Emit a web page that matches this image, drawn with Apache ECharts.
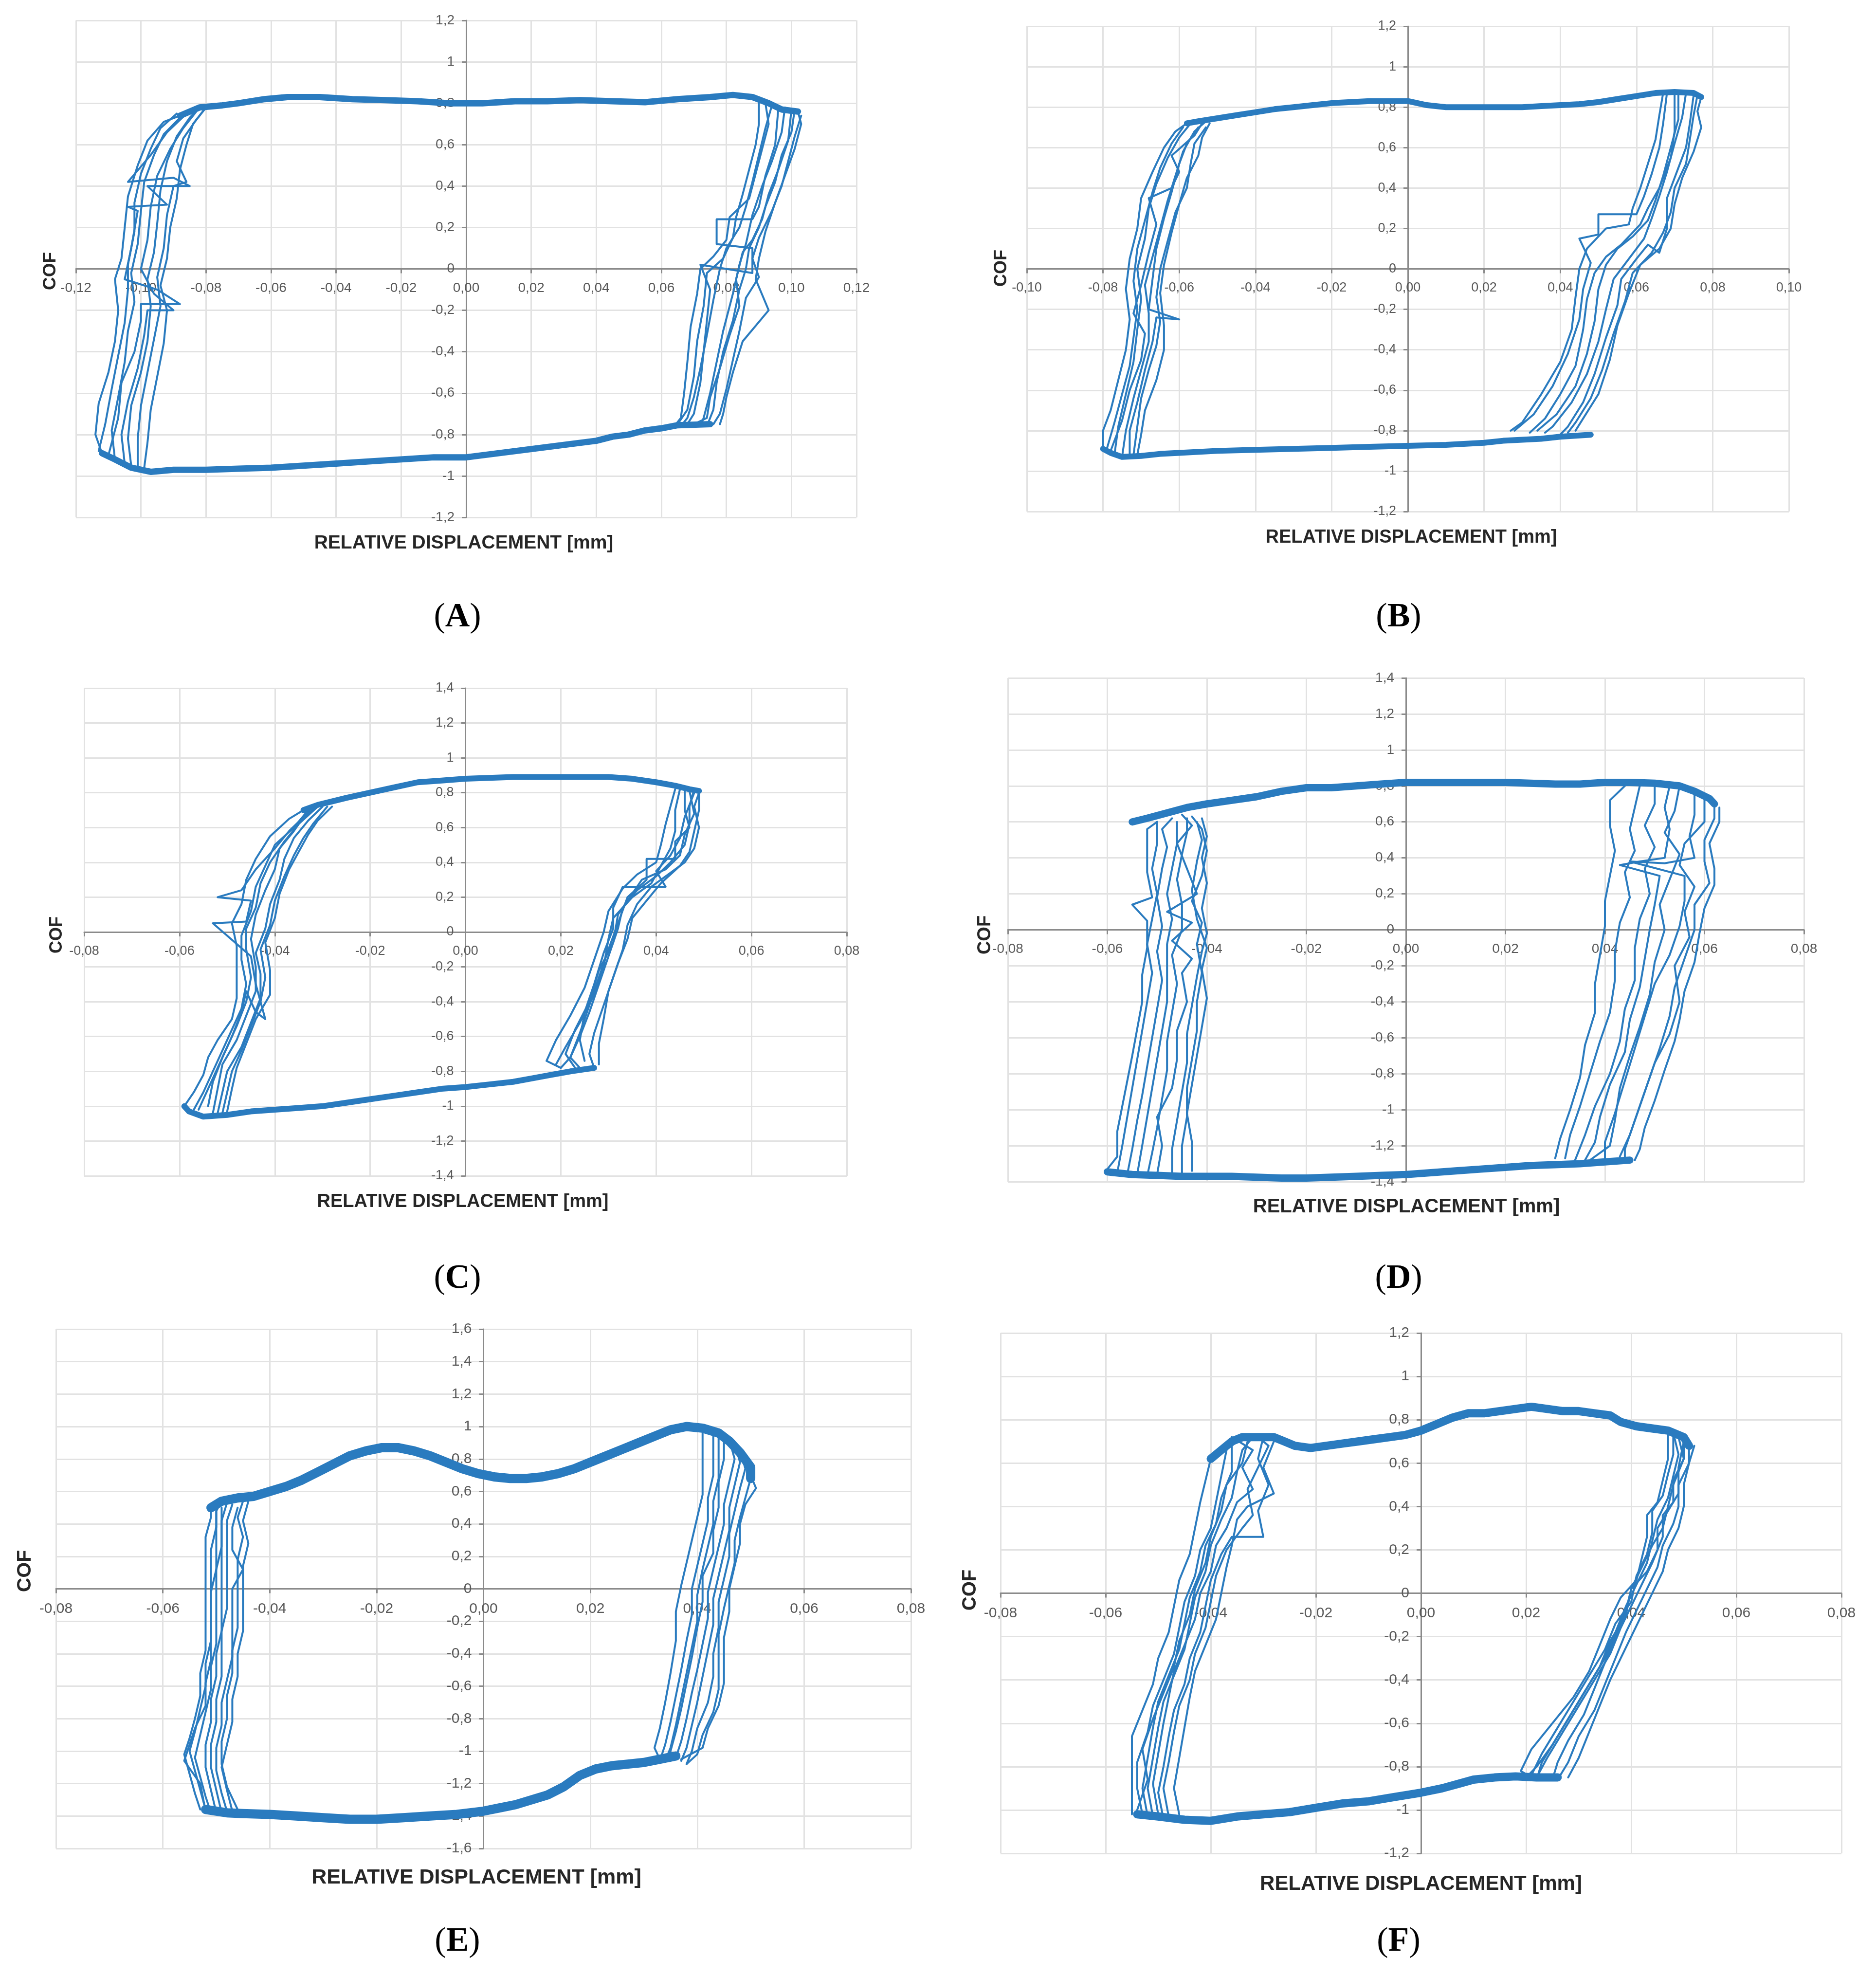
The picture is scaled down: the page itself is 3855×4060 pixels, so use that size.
<!DOCTYPE html>
<html>
<head>
<meta charset="utf-8">
<script src="https://cdn.jsdelivr.net/npm/echarts@6/dist/echarts.min.js"></script>
<style>
  html, body { margin: 0; padding: 0; background: #ffffff; }
  #chart { width: 3855px; height: 4060px; }
</style>
</head>
<body>
<div id="chart"></div>
<script>
// ── DATA ─────────────────────────────────────────────────────────────────────
// Each loop : top branch (COF > 0), bottom branch (COF < 0),
// then several descending right walls and ascending left walls (one per cycle).

// (A)
const topA = [[-0.088,0.74],[-0.082,0.78],[-0.075,0.79],[-0.07,0.80],[-0.062,0.82],[-0.055,0.83],[-0.045,0.83],[-0.035,0.82],[-0.025,0.815],[-0.015,0.81],[-0.005,0.80],[0.005,0.80],[0.015,0.81],[0.025,0.81],[0.035,0.815],[0.045,0.81],[0.055,0.805],[0.065,0.82],[0.075,0.83],[0.082,0.84],[0.088,0.83],[0.093,0.80],[0.097,0.77],[0.102,0.76]];
const bottomA = [[0.075,-0.75],[0.065,-0.755],[0.06,-0.77],[0.055,-0.78],[0.05,-0.80],[0.045,-0.81],[0.04,-0.83],[0.03,-0.85],[0.02,-0.87],[0.01,-0.89],[0.0,-0.91],[-0.01,-0.91],[-0.02,-0.92],[-0.03,-0.93],[-0.04,-0.94],[-0.05,-0.95],[-0.06,-0.96],[-0.07,-0.965],[-0.08,-0.97],[-0.09,-0.97],[-0.097,-0.98],[-0.103,-0.96],[-0.108,-0.92],[-0.112,-0.89]];
const rightA = [
  [[0.102,0.76],[0.103,0.70],[0.101,0.58],[0.098,0.45],[0.095,0.32],[0.092,0.18],[0.090,0.05],[0.089,-0.05],[0.093,-0.20],[0.085,-0.35],[0.082,-0.50],[0.080,-0.62],[0.079,-0.70],[0.078,-0.75]],
  [[0.098,0.78],[0.097,0.66],[0.094,0.52],[0.091,0.40],[0.088,0.26],[0.086,0.12],[0.084,0.02],[0.082,-0.12],[0.079,-0.30],[0.077,-0.45],[0.075,-0.60],[0.073,-0.72],[0.072,-0.76]],
  [[0.094,0.79],[0.092,0.68],[0.090,0.55],[0.088,0.42],[0.086,0.30],[0.084,0.20],[0.080,0.10],[0.078,0.0],[0.076,-0.15],[0.074,-0.32],[0.072,-0.48],[0.070,-0.62],[0.068,-0.72],[0.066,-0.76]],
  [[0.090,0.80],[0.090,0.70],[0.089,0.60],[0.087,0.48],[0.085,0.36],[0.083,0.25],[0.082,0.15],[0.079,0.05],[0.074,-0.02],[0.073,-0.18],[0.071,-0.35],[0.070,-0.52],[0.068,-0.68],[0.065,-0.75]],
  [[0.100,0.77],[0.099,0.62],[0.096,0.48],[0.093,0.36],[0.091,0.24],[0.088,0.14],[0.085,0.08],[0.083,-0.05],[0.084,-0.18],[0.081,-0.32],[0.078,-0.48],[0.075,-0.62],[0.074,-0.72],[0.070,-0.75]],
  [[0.096,0.78],[0.095,0.60],[0.092,0.45],[0.090,0.30],[0.088,0.24],[0.077,0.24],[0.077,0.12],[0.088,0.10],[0.088,-0.02],[0.072,0.02],[0.075,-0.10],[0.074,-0.25],[0.073,-0.40],[0.072,-0.55],[0.070,-0.70],[0.068,-0.75]],
  [[0.101,0.77],[0.100,0.66],[0.097,0.55],[0.095,0.42],[0.092,0.30],[0.090,0.20],[0.087,0.10],[0.086,0.0],[0.084,-0.10],[0.082,-0.25],[0.079,-0.40],[0.077,-0.55],[0.076,-0.68],[0.074,-0.76]],
  [[0.092,0.80],[0.093,0.70],[0.091,0.58],[0.089,0.46],[0.087,0.34],[0.081,0.25],[0.080,0.14],[0.076,0.06],[0.072,0.0],[0.071,-0.12],[0.069,-0.28],[0.068,-0.45],[0.067,-0.60],[0.066,-0.72],[0.064,-0.76]],
  [[0.103,0.74],[0.101,0.64],[0.099,0.52],[0.097,0.40],[0.094,0.28],[0.090,0.15],[0.088,0.05],[0.090,-0.04],[0.086,-0.14],[0.084,-0.30],[0.082,-0.44],[0.080,-0.58],[0.078,-0.70],[0.076,-0.75]]
];
const leftA = [
  [[-0.112,-0.89],[-0.114,-0.80],[-0.113,-0.65],[-0.110,-0.50],[-0.108,-0.35],[-0.107,-0.20],[-0.108,-0.05],[-0.106,0.05],[-0.105,0.20],[-0.104,0.35],[-0.101,0.50],[-0.098,0.62],[-0.093,0.71],[-0.088,0.74]],
  [[-0.108,-0.92],[-0.109,-0.78],[-0.107,-0.62],[-0.105,-0.45],[-0.104,-0.30],[-0.102,-0.16],[-0.103,-0.02],[-0.101,0.12],[-0.100,0.28],[-0.099,0.42],[-0.096,0.55],[-0.093,0.65],[-0.088,0.73],[-0.084,0.77]],
  [[-0.103,-0.95],[-0.104,-0.82],[-0.103,-0.66],[-0.100,-0.50],[-0.098,-0.35],[-0.097,-0.18],[-0.098,-0.05],[-0.096,0.08],[-0.095,0.22],[-0.094,0.38],[-0.092,0.52],[-0.089,0.64],[-0.085,0.73],[-0.082,0.78]],
  [[-0.099,-0.96],[-0.098,-0.84],[-0.097,-0.68],[-0.095,-0.52],[-0.093,-0.36],[-0.092,-0.20],[-0.094,-0.08],[-0.092,0.05],[-0.091,0.20],[-0.089,0.34],[-0.088,0.48],[-0.086,0.60],[-0.084,0.70],[-0.080,0.78]],
  [[-0.110,-0.90],[-0.107,-0.72],[-0.106,-0.55],[-0.102,-0.40],[-0.100,-0.25],[-0.100,-0.17],[-0.088,-0.17],[-0.095,-0.10],[-0.105,-0.05],[-0.103,0.10],[-0.101,0.28],[-0.104,0.30],[-0.092,0.31],[-0.098,0.40],[-0.085,0.40],[-0.090,0.44],[-0.104,0.42],[-0.097,0.55],[-0.092,0.66],[-0.086,0.75]],
  [[-0.113,-0.88],[-0.111,-0.75],[-0.109,-0.58],[-0.107,-0.42],[-0.105,-0.26],[-0.104,-0.10],[-0.104,0.02],[-0.102,0.18],[-0.102,0.32],[-0.100,0.46],[-0.097,0.58],[-0.094,0.68],[-0.089,0.75]],
  [[-0.105,-0.94],[-0.106,-0.80],[-0.104,-0.64],[-0.101,-0.48],[-0.099,-0.32],[-0.098,-0.20],[-0.090,-0.20],[-0.096,-0.12],[-0.100,0.0],[-0.098,0.14],[-0.097,0.30],[-0.095,0.45],[-0.091,0.58],[-0.087,0.68],[-0.083,0.76]],
  [[-0.101,-0.96],[-0.101,-0.82],[-0.100,-0.66],[-0.098,-0.50],[-0.096,-0.34],[-0.094,-0.18],[-0.095,-0.04],[-0.093,0.10],[-0.092,0.26],[-0.090,0.40],[-0.086,0.42],[-0.089,0.52],[-0.087,0.63],[-0.083,0.72],[-0.080,0.78]]
];

// (B)
const topB = [[-0.058,0.72],[-0.055,0.73],[-0.05,0.745],[-0.045,0.76],[-0.04,0.775],[-0.035,0.79],[-0.03,0.80],[-0.025,0.81],[-0.02,0.82],[-0.015,0.825],[-0.01,0.83],[-0.005,0.83],[0.0,0.83],[0.005,0.81],[0.01,0.80],[0.015,0.80],[0.02,0.80],[0.025,0.80],[0.03,0.80],[0.035,0.805],[0.04,0.81],[0.045,0.815],[0.05,0.825],[0.055,0.84],[0.06,0.855],[0.065,0.87],[0.07,0.875],[0.075,0.87],[0.077,0.85]];
const bottomB = [[0.048,-0.82],[0.04,-0.83],[0.035,-0.84],[0.03,-0.845],[0.025,-0.85],[0.02,-0.86],[0.01,-0.87],[0.0,-0.875],[-0.01,-0.88],[-0.02,-0.885],[-0.03,-0.89],[-0.04,-0.895],[-0.05,-0.90],[-0.06,-0.91],[-0.065,-0.915],[-0.07,-0.925],[-0.075,-0.93],[-0.078,-0.91],[-0.08,-0.89]];
const rightB = [
  [[0.077,0.85],[0.076,0.78],[0.077,0.70],[0.075,0.58],[0.072,0.45],[0.070,0.32],[0.069,0.20],[0.066,0.10],[0.061,0.02],[0.058,-0.12],[0.055,-0.28],[0.053,-0.45],[0.050,-0.62],[0.046,-0.74],[0.044,-0.80]],
  [[0.073,0.87],[0.072,0.75],[0.070,0.62],[0.068,0.48],[0.066,0.36],[0.064,0.25],[0.062,0.15],[0.058,0.05],[0.054,-0.05],[0.052,-0.20],[0.050,-0.36],[0.047,-0.52],[0.043,-0.66],[0.038,-0.78],[0.036,-0.81]],
  [[0.068,0.87],[0.067,0.72],[0.066,0.60],[0.064,0.47],[0.062,0.36],[0.060,0.27],[0.050,0.27],[0.050,0.17],[0.045,0.15],[0.048,0.03],[0.046,-0.10],[0.045,-0.25],[0.042,-0.42],[0.038,-0.58],[0.033,-0.72],[0.028,-0.80]],
  [[0.070,0.86],[0.070,0.68],[0.069,0.55],[0.066,0.40],[0.063,0.30],[0.061,0.22],[0.056,0.12],[0.052,0.06],[0.049,-0.02],[0.047,-0.15],[0.046,-0.30],[0.044,-0.48],[0.040,-0.62],[0.036,-0.74],[0.032,-0.81]],
  [[0.075,0.86],[0.074,0.72],[0.073,0.60],[0.071,0.50],[0.068,0.35],[0.068,0.20],[0.066,0.08],[0.063,0.12],[0.060,0.05],[0.056,-0.05],[0.055,-0.18],[0.052,-0.34],[0.049,-0.52],[0.046,-0.66],[0.042,-0.78],[0.040,-0.82]],
  [[0.076,0.86],[0.075,0.76],[0.074,0.64],[0.073,0.52],[0.070,0.40],[0.069,0.28],[0.067,0.18],[0.064,0.08],[0.059,-0.02],[0.057,-0.16],[0.054,-0.32],[0.051,-0.50],[0.048,-0.64],[0.044,-0.76],[0.042,-0.81]],
  [[0.071,0.87],[0.071,0.74],[0.069,0.60],[0.067,0.46],[0.065,0.34],[0.063,0.24],[0.059,0.16],[0.055,0.10],[0.052,0.02],[0.050,-0.10],[0.049,-0.26],[0.047,-0.42],[0.044,-0.58],[0.039,-0.72],[0.034,-0.80]],
  [[0.067,0.87],[0.066,0.76],[0.065,0.64],[0.063,0.52],[0.061,0.40],[0.059,0.30],[0.058,0.22],[0.052,0.20],[0.047,0.10],[0.045,0.0],[0.044,-0.14],[0.043,-0.30],[0.040,-0.46],[0.035,-0.62],[0.030,-0.76],[0.027,-0.80]]
];
const leftB = [
  [[-0.080,-0.88],[-0.080,-0.80],[-0.078,-0.70],[-0.076,-0.55],[-0.074,-0.40],[-0.073,-0.25],[-0.074,-0.10],[-0.073,0.05],[-0.071,0.20],[-0.070,0.35],[-0.067,0.48],[-0.064,0.60],[-0.061,0.68],[-0.058,0.72]],
  [[-0.077,-0.92],[-0.076,-0.78],[-0.074,-0.62],[-0.072,-0.46],[-0.071,-0.30],[-0.070,-0.15],[-0.071,0.0],[-0.069,0.15],[-0.068,0.30],[-0.066,0.42],[-0.063,0.55],[-0.060,0.65],[-0.057,0.72]],
  [[-0.073,-0.93],[-0.073,-0.80],[-0.071,-0.66],[-0.069,-0.50],[-0.067,-0.36],[-0.066,-0.24],[-0.060,-0.25],[-0.068,-0.20],[-0.067,-0.05],[-0.066,0.10],[-0.064,0.25],[-0.062,0.38],[-0.060,0.52],[-0.058,0.62],[-0.055,0.70]],
  [[-0.071,-0.92],[-0.070,-0.82],[-0.069,-0.70],[-0.066,-0.55],[-0.064,-0.40],[-0.064,-0.28],[-0.065,-0.12],[-0.064,0.02],[-0.062,0.18],[-0.060,0.32],[-0.058,0.45],[-0.055,0.56],[-0.054,0.65],[-0.052,0.72]],
  [[-0.078,-0.90],[-0.075,-0.75],[-0.073,-0.60],[-0.070,-0.45],[-0.069,-0.32],[-0.072,-0.22],[-0.070,-0.08],[-0.068,0.08],[-0.066,0.22],[-0.068,0.35],[-0.062,0.40],[-0.060,0.48],[-0.062,0.56],[-0.056,0.66],[-0.054,0.72]],
  [[-0.079,-0.89],[-0.077,-0.76],[-0.075,-0.62],[-0.073,-0.48],[-0.072,-0.34],[-0.071,-0.20],[-0.072,-0.06],[-0.071,0.10],[-0.069,0.24],[-0.067,0.38],[-0.065,0.50],[-0.062,0.62],[-0.059,0.70]],
  [[-0.075,-0.93],[-0.074,-0.80],[-0.072,-0.64],[-0.070,-0.50],[-0.068,-0.36],[-0.068,-0.22],[-0.069,-0.08],[-0.067,0.06],[-0.065,0.20],[-0.063,0.34],[-0.061,0.46],[-0.059,0.58],[-0.056,0.68],[-0.053,0.73]],
  [[-0.072,-0.92],[-0.071,-0.78],[-0.070,-0.64],[-0.068,-0.50],[-0.066,-0.38],[-0.065,-0.26],[-0.066,-0.14],[-0.065,0.0],[-0.063,0.14],[-0.061,0.28],[-0.058,0.40],[-0.057,0.52],[-0.056,0.62],[-0.053,0.70]]
];

// (C)
const topC = [[-0.034,0.70],[-0.031,0.73],[-0.028,0.75],[-0.025,0.77],[-0.02,0.80],[-0.015,0.83],[-0.01,0.86],[-0.005,0.87],[0.0,0.88],[0.005,0.885],[0.01,0.89],[0.015,0.89],[0.02,0.89],[0.025,0.89],[0.03,0.89],[0.035,0.88],[0.04,0.86],[0.044,0.84],[0.047,0.82],[0.049,0.81]];
const bottomC = [[0.027,-0.78],[0.022,-0.80],[0.018,-0.82],[0.014,-0.84],[0.01,-0.86],[0.005,-0.875],[0.0,-0.89],[-0.005,-0.90],[-0.01,-0.92],[-0.015,-0.94],[-0.02,-0.96],[-0.025,-0.98],[-0.03,-1.00],[-0.035,-1.01],[-0.04,-1.02],[-0.045,-1.03],[-0.05,-1.05],[-0.055,-1.06],[-0.058,-1.03],[-0.059,-1.0]];
const rightC = [
  [[0.049,0.81],[0.049,0.70],[0.048,0.58],[0.047,0.46],[0.045,0.38],[0.041,0.28],[0.038,0.18],[0.035,0.08],[0.034,-0.04],[0.032,-0.18],[0.030,-0.34],[0.029,-0.50],[0.028,-0.64],[0.028,-0.76]],
  [[0.046,0.82],[0.046,0.70],[0.047,0.60],[0.044,0.52],[0.044,0.42],[0.038,0.42],[0.038,0.30],[0.034,0.20],[0.032,0.05],[0.030,-0.10],[0.028,-0.26],[0.026,-0.42],[0.024,-0.58],[0.022,-0.72],[0.020,-0.78]],
  [[0.044,0.82],[0.043,0.72],[0.042,0.62],[0.041,0.50],[0.040,0.40],[0.036,0.33],[0.033,0.25],[0.030,0.12],[0.029,0.0],[0.027,-0.16],[0.025,-0.32],[0.022,-0.48],[0.019,-0.62],[0.017,-0.74],[0.020,-0.78]],
  [[0.048,0.80],[0.046,0.66],[0.045,0.54],[0.043,0.44],[0.040,0.35],[0.042,0.26],[0.033,0.26],[0.031,0.14],[0.031,0.02],[0.029,-0.12],[0.027,-0.30],[0.025,-0.46],[0.024,-0.62],[0.025,-0.74]],
  [[0.047,0.81],[0.048,0.68],[0.046,0.56],[0.045,0.44],[0.042,0.36],[0.037,0.30],[0.035,0.22],[0.032,0.10],[0.031,-0.06],[0.028,-0.22],[0.026,-0.40],[0.023,-0.56],[0.021,-0.70],[0.023,-0.78]],
  [[0.048,0.82],[0.047,0.72],[0.047,0.62],[0.046,0.50],[0.043,0.40],[0.040,0.32],[0.036,0.24],[0.033,0.14],[0.032,0.02],[0.030,-0.14],[0.028,-0.30],[0.026,-0.46],[0.024,-0.60],[0.022,-0.72],[0.024,-0.78]],
  [[0.045,0.82],[0.044,0.70],[0.044,0.58],[0.043,0.48],[0.041,0.38],[0.039,0.28],[0.035,0.20],[0.031,0.08],[0.030,-0.04],[0.029,-0.20],[0.027,-0.36],[0.024,-0.52],[0.021,-0.66],[0.019,-0.76]],
  [[0.049,0.80],[0.048,0.72],[0.049,0.60],[0.048,0.48],[0.046,0.40],[0.043,0.34],[0.039,0.26],[0.036,0.16],[0.034,0.04],[0.033,-0.10],[0.031,-0.26],[0.029,-0.42],[0.027,-0.58],[0.026,-0.70],[0.027,-0.78]]
];
const leftC = [
  [[-0.059,-1.00],[-0.057,-0.92],[-0.055,-0.82],[-0.054,-0.72],[-0.052,-0.62],[-0.049,-0.50],[-0.048,-0.38],[-0.048,-0.22],[-0.048,-0.08],[-0.049,0.05],[-0.047,0.16],[-0.046,0.30],[-0.044,0.42],[-0.041,0.55],[-0.037,0.65],[-0.034,0.70]],
  [[-0.056,-1.02],[-0.054,-0.90],[-0.052,-0.78],[-0.050,-0.66],[-0.048,-0.54],[-0.046,-0.40],[-0.045,-0.26],[-0.046,-0.10],[-0.046,0.02],[-0.044,0.14],[-0.043,0.28],[-0.041,0.40],[-0.038,0.52],[-0.035,0.62],[-0.031,0.72]],
  [[-0.052,-1.04],[-0.051,-0.92],[-0.050,-0.80],[-0.047,-0.66],[-0.045,-0.52],[-0.043,-0.38],[-0.043,-0.24],[-0.044,-0.12],[-0.042,0.02],[-0.041,0.16],[-0.039,0.30],[-0.038,0.42],[-0.036,0.54],[-0.033,0.64],[-0.030,0.72]],
  [[-0.054,-1.00],[-0.053,-0.86],[-0.051,-0.72],[-0.049,-0.60],[-0.047,-0.46],[-0.046,-0.34],[-0.044,-0.46],[-0.042,-0.50],[-0.044,-0.30],[-0.045,-0.14],[-0.053,0.05],[-0.046,0.06],[-0.045,0.18],[-0.052,0.20],[-0.047,0.24],[-0.044,0.36],[-0.040,0.48],[-0.037,0.58],[-0.034,0.66],[-0.032,0.72]],
  [[-0.050,-1.03],[-0.049,-0.90],[-0.048,-0.78],[-0.046,-0.64],[-0.044,-0.50],[-0.041,-0.36],[-0.041,-0.22],[-0.042,-0.06],[-0.040,0.08],[-0.039,0.22],[-0.037,0.36],[-0.035,0.46],[-0.033,0.56],[-0.031,0.64],[-0.028,0.72]],
  [[-0.057,-1.02],[-0.055,-0.92],[-0.053,-0.80],[-0.051,-0.68],[-0.049,-0.56],[-0.047,-0.44],[-0.046,-0.30],[-0.047,-0.16],[-0.047,-0.02],[-0.045,0.12],[-0.044,0.26],[-0.042,0.38],[-0.040,0.50],[-0.036,0.60],[-0.033,0.70]],
  [[-0.053,-1.04],[-0.052,-0.90],[-0.051,-0.76],[-0.048,-0.62],[-0.046,-0.48],[-0.044,-0.34],[-0.044,-0.20],[-0.045,-0.04],[-0.044,0.10],[-0.042,0.24],[-0.040,0.36],[-0.039,0.48],[-0.036,0.58],[-0.034,0.66],[-0.031,0.72]],
  [[-0.051,-1.04],[-0.050,-0.92],[-0.049,-0.80],[-0.047,-0.68],[-0.045,-0.54],[-0.043,-0.40],[-0.042,-0.26],[-0.043,-0.10],[-0.041,0.04],[-0.040,0.18],[-0.038,0.32],[-0.036,0.44],[-0.034,0.54],[-0.032,0.62],[-0.029,0.72]]
];

// (D)
const topD = [[-0.055,0.60],[-0.052,0.62],[-0.048,0.65],[-0.044,0.68],[-0.04,0.70],[-0.035,0.72],[-0.03,0.74],[-0.025,0.77],[-0.02,0.79],[-0.015,0.79],[-0.01,0.80],[-0.005,0.81],[0.0,0.82],[0.005,0.82],[0.01,0.82],[0.015,0.82],[0.02,0.82],[0.025,0.815],[0.03,0.81],[0.035,0.81],[0.04,0.82],[0.045,0.82],[0.05,0.815],[0.055,0.80],[0.058,0.77],[0.061,0.73],[0.062,0.70]];
const bottomD = [[0.045,-1.28],[0.04,-1.29],[0.035,-1.30],[0.03,-1.305],[0.025,-1.31],[0.02,-1.32],[0.015,-1.33],[0.01,-1.34],[0.005,-1.35],[0.0,-1.36],[-0.005,-1.365],[-0.01,-1.37],[-0.015,-1.375],[-0.02,-1.38],[-0.025,-1.38],[-0.03,-1.375],[-0.035,-1.37],[-0.04,-1.37],[-0.045,-1.37],[-0.05,-1.365],[-0.055,-1.36],[-0.06,-1.345]];
const rightD = [
  [[0.063,0.68],[0.063,0.60],[0.061,0.48],[0.062,0.34],[0.062,0.25],[0.060,0.12],[0.059,-0.02],[0.058,-0.18],[0.056,-0.34],[0.055,-0.50],[0.054,-0.62],[0.052,-0.78],[0.050,-0.95],[0.048,-1.10],[0.047,-1.22],[0.046,-1.28]],
  [[0.058,0.78],[0.058,0.64],[0.057,0.52],[0.058,0.40],[0.052,0.37],[0.045,0.38],[0.056,0.30],[0.056,0.16],[0.055,0.02],[0.053,-0.14],[0.050,-0.30],[0.048,-0.48],[0.046,-0.66],[0.044,-0.84],[0.042,-1.02],[0.040,-1.18],[0.040,-1.28]],
  [[0.050,0.80],[0.050,0.70],[0.048,0.58],[0.050,0.46],[0.048,0.34],[0.049,0.20],[0.047,0.06],[0.046,-0.10],[0.046,-0.28],[0.044,-0.44],[0.043,-0.62],[0.041,-0.80],[0.038,-0.98],[0.036,-1.14],[0.034,-1.28]],
  [[0.044,0.80],[0.041,0.72],[0.041,0.58],[0.042,0.44],[0.041,0.30],[0.040,0.16],[0.040,0.02],[0.039,-0.14],[0.038,-0.30],[0.038,-0.46],[0.036,-0.64],[0.035,-0.82],[0.033,-1.00],[0.031,-1.16],[0.030,-1.27]],
  [[0.055,0.80],[0.054,0.66],[0.052,0.54],[0.055,0.42],[0.053,0.28],[0.051,0.14],[0.052,0.0],[0.050,-0.18],[0.049,-0.36],[0.047,-0.54],[0.045,-0.70],[0.043,-0.88],[0.042,-1.06],[0.041,-1.20],[0.037,-1.28]],
  [[0.060,0.74],[0.060,0.60],[0.056,0.48],[0.055,0.36],[0.058,0.24],[0.056,0.10],[0.057,-0.04],[0.054,-0.20],[0.055,-0.40],[0.053,-0.58],[0.050,-0.74],[0.048,-0.90],[0.046,-1.06],[0.044,-1.22],[0.044,-1.29]],
  [[0.062,0.72],[0.062,0.62],[0.060,0.50],[0.060,0.38],[0.061,0.26],[0.058,0.14],[0.058,0.0],[0.056,-0.16],[0.054,-0.32],[0.053,-0.48],[0.051,-0.66],[0.049,-0.82],[0.047,-0.98],[0.045,-1.14],[0.043,-1.26]],
  [[0.047,0.80],[0.046,0.68],[0.045,0.56],[0.046,0.44],[0.044,0.32],[0.045,0.18],[0.043,0.04],[0.042,-0.12],[0.042,-0.28],[0.041,-0.46],[0.039,-0.62],[0.037,-0.80],[0.035,-0.98],[0.033,-1.14],[0.032,-1.27]],
  [[0.053,0.80],[0.052,0.68],[0.053,0.56],[0.052,0.40],[0.047,0.38],[0.043,0.36],[0.051,0.30],[0.050,0.14],[0.049,0.0],[0.048,-0.16],[0.047,-0.32],[0.045,-0.50],[0.044,-0.68],[0.041,-0.86],[0.039,-1.04],[0.038,-1.18],[0.036,-1.28]]
];
const leftD = [
  [[-0.060,-1.33],[-0.058,-1.26],[-0.058,-1.12],[-0.057,-0.98],[-0.056,-0.84],[-0.055,-0.70],[-0.054,-0.55],[-0.053,-0.40],[-0.053,-0.25],[-0.052,-0.10],[-0.052,0.05],[-0.055,0.14],[-0.051,0.18],[-0.052,0.32],[-0.052,0.46],[-0.052,0.56],[-0.050,0.60]],
  [[-0.056,-1.36],[-0.055,-1.22],[-0.054,-1.06],[-0.053,-0.92],[-0.052,-0.76],[-0.051,-0.60],[-0.050,-0.44],[-0.049,-0.28],[-0.050,-0.12],[-0.049,0.02],[-0.050,0.18],[-0.049,0.34],[-0.048,0.46],[-0.049,0.56],[-0.047,0.62]],
  [[-0.052,-1.37],[-0.051,-1.24],[-0.050,-1.10],[-0.049,-0.94],[-0.048,-0.78],[-0.048,-0.62],[-0.047,-0.46],[-0.046,-0.30],[-0.047,-0.14],[-0.045,0.0],[-0.045,0.14],[-0.046,0.28],[-0.045,0.42],[-0.044,0.54],[-0.044,0.62]],
  [[-0.047,-1.36],[-0.047,-1.22],[-0.046,-1.06],[-0.045,-0.90],[-0.044,-0.74],[-0.044,-0.58],[-0.043,-0.42],[-0.042,-0.26],[-0.041,-0.12],[-0.040,-0.02],[-0.041,0.12],[-0.040,0.26],[-0.041,0.40],[-0.040,0.52],[-0.041,0.62]],
  [[-0.050,-1.36],[-0.049,-1.20],[-0.050,-1.04],[-0.047,-0.88],[-0.046,-0.72],[-0.046,-0.56],[-0.044,-0.40],[-0.045,-0.24],[-0.043,-0.16],[-0.047,-0.06],[-0.043,0.04],[-0.048,0.10],[-0.042,0.20],[-0.044,0.34],[-0.046,0.48],[-0.043,0.58],[-0.045,0.64]],
  [[-0.043,-1.34],[-0.043,-1.18],[-0.044,-1.02],[-0.043,-0.86],[-0.042,-0.70],[-0.041,-0.54],[-0.040,-0.38],[-0.041,-0.22],[-0.040,-0.10],[-0.042,0.06],[-0.043,0.22],[-0.042,0.38],[-0.041,0.50],[-0.042,0.60]],
  [[-0.058,-1.35],[-0.057,-1.20],[-0.056,-1.04],[-0.055,-0.88],[-0.054,-0.72],[-0.053,-0.56],[-0.052,-0.40],[-0.051,-0.24],[-0.052,-0.08],[-0.051,0.06],[-0.050,0.20],[-0.051,0.34],[-0.050,0.48],[-0.050,0.60]],
  [[-0.054,-1.36],[-0.053,-1.20],[-0.052,-1.04],[-0.051,-0.88],[-0.050,-0.72],[-0.049,-0.56],[-0.048,-0.40],[-0.048,-0.24],[-0.048,-0.08],[-0.047,0.06],[-0.048,0.20],[-0.047,0.34],[-0.046,0.48],[-0.046,0.60]],
  [[-0.045,-1.36],[-0.045,-1.20],[-0.044,-1.04],[-0.044,-0.88],[-0.043,-0.72],[-0.042,-0.56],[-0.042,-0.40],[-0.041,-0.24],[-0.042,-0.08],[-0.041,0.04],[-0.043,0.16],[-0.041,0.30],[-0.040,0.44],[-0.041,0.56],[-0.043,0.63]]
];

// (E)
const topE = [[-0.051,0.50],[-0.049,0.54],[-0.046,0.56],[-0.043,0.57],[-0.04,0.60],[-0.037,0.63],[-0.034,0.67],[-0.031,0.72],[-0.028,0.77],[-0.025,0.82],[-0.022,0.85],[-0.019,0.87],[-0.016,0.87],[-0.013,0.85],[-0.01,0.82],[-0.007,0.78],[-0.004,0.74],[-0.001,0.71],[0.002,0.69],[0.005,0.68],[0.008,0.68],[0.011,0.69],[0.014,0.71],[0.017,0.74],[0.02,0.78],[0.023,0.82],[0.026,0.86],[0.029,0.90],[0.032,0.94],[0.035,0.98],[0.038,1.00],[0.041,0.99],[0.044,0.96],[0.046,0.91],[0.048,0.84],[0.050,0.75],[0.050,0.68]];
const bottomE = [[0.036,-1.03],[0.033,-1.05],[0.03,-1.07],[0.027,-1.08],[0.024,-1.09],[0.021,-1.11],[0.018,-1.15],[0.015,-1.22],[0.012,-1.27],[0.009,-1.30],[0.006,-1.33],[0.003,-1.35],[0.0,-1.37],[-0.005,-1.39],[-0.01,-1.40],[-0.015,-1.41],[-0.02,-1.42],[-0.025,-1.42],[-0.03,-1.41],[-0.035,-1.40],[-0.04,-1.39],[-0.045,-1.385],[-0.048,-1.38],[-0.052,-1.36]];
const rightE = [
  [[0.050,0.70],[0.051,0.62],[0.049,0.52],[0.048,0.40],[0.048,0.28],[0.047,0.14],[0.046,0.0],[0.046,-0.14],[0.045,-0.30],[0.045,-0.46],[0.045,-0.58],[0.044,-0.72],[0.042,-0.86],[0.041,-0.98],[0.037,-1.05]],
  [[0.046,0.92],[0.047,0.80],[0.046,0.66],[0.045,0.52],[0.045,0.40],[0.044,0.26],[0.043,0.12],[0.042,-0.02],[0.042,-0.18],[0.041,-0.34],[0.040,-0.50],[0.039,-0.64],[0.038,-0.80],[0.037,-0.94],[0.036,-1.04]],
  [[0.043,0.96],[0.043,0.84],[0.043,0.70],[0.042,0.56],[0.042,0.42],[0.041,0.28],[0.040,0.14],[0.039,0.0],[0.039,-0.16],[0.038,-0.32],[0.037,-0.50],[0.036,-0.66],[0.035,-0.82],[0.034,-0.96],[0.033,-1.06]],
  [[0.041,0.98],[0.041,0.86],[0.041,0.72],[0.041,0.58],[0.040,0.44],[0.039,0.30],[0.038,0.16],[0.037,0.02],[0.036,-0.14],[0.036,-0.32],[0.035,-0.52],[0.034,-0.70],[0.033,-0.86],[0.032,-0.98],[0.033,-1.05]],
  [[0.048,0.86],[0.049,0.74],[0.048,0.62],[0.047,0.48],[0.046,0.34],[0.046,0.20],[0.045,0.06],[0.044,-0.08],[0.044,-0.24],[0.043,-0.40],[0.043,-0.54],[0.042,-0.70],[0.040,-0.86],[0.039,-1.00],[0.038,-1.08]],
  [[0.045,0.94],[0.045,0.80],[0.044,0.66],[0.044,0.50],[0.043,0.36],[0.043,0.22],[0.041,0.08],[0.041,-0.08],[0.040,-0.24],[0.039,-0.42],[0.038,-0.58],[0.037,-0.74],[0.036,-0.88],[0.035,-1.00],[0.035,-1.06]],
  [[0.047,0.90],[0.048,0.78],[0.047,0.64],[0.046,0.50],[0.046,0.36],[0.045,0.22],[0.044,0.08],[0.043,-0.06],[0.043,-0.22],[0.042,-0.38],[0.041,-0.54],[0.040,-0.70],[0.039,-0.84],[0.038,-0.98],[0.037,-1.06]],
  [[0.044,0.95],[0.044,0.82],[0.044,0.68],[0.043,0.54],[0.043,0.40],[0.042,0.26],[0.041,0.12],[0.040,-0.04],[0.040,-0.20],[0.039,-0.36],[0.038,-0.52],[0.037,-0.68],[0.036,-0.84],[0.035,-0.98],[0.034,-1.06]],
  [[0.049,0.80],[0.050,0.68],[0.049,0.56],[0.048,0.44],[0.047,0.30],[0.047,0.16],[0.046,0.02],[0.045,-0.12],[0.044,-0.28],[0.044,-0.44],[0.044,-0.62],[0.043,-0.76],[0.041,-0.90],[0.040,-1.02],[0.038,-1.08]]
];
const leftE = [
  [[-0.053,-1.36],[-0.054,-1.26],[-0.055,-1.14],[-0.056,-1.02],[-0.055,-0.92],[-0.054,-0.80],[-0.053,-0.66],[-0.053,-0.52],[-0.052,-0.38],[-0.052,-0.24],[-0.052,-0.10],[-0.052,0.04],[-0.052,0.18],[-0.052,0.32],[-0.051,0.44],[-0.051,0.52]],
  [[-0.051,-1.38],[-0.052,-1.28],[-0.053,-1.16],[-0.054,-1.04],[-0.053,-0.90],[-0.052,-0.76],[-0.051,-0.62],[-0.051,-0.48],[-0.050,-0.34],[-0.050,-0.20],[-0.050,-0.06],[-0.050,0.08],[-0.050,0.22],[-0.050,0.36],[-0.050,0.48],[-0.049,0.54]],
  [[-0.049,-1.38],[-0.050,-1.24],[-0.051,-1.10],[-0.051,-0.96],[-0.050,-0.82],[-0.050,-0.68],[-0.049,-0.54],[-0.049,-0.40],[-0.049,-0.26],[-0.048,-0.12],[-0.048,0.02],[-0.048,0.16],[-0.048,0.30],[-0.048,0.42],[-0.047,0.52]],
  [[-0.046,-1.36],[-0.048,-1.22],[-0.049,-1.08],[-0.049,-0.94],[-0.048,-0.80],[-0.048,-0.66],[-0.047,-0.52],[-0.047,-0.38],[-0.046,-0.24],[-0.046,-0.10],[-0.046,0.04],[-0.046,0.18],[-0.045,0.32],[-0.046,0.44],[-0.045,0.54]],
  [[-0.052,-1.37],[-0.053,-1.20],[-0.056,-1.06],[-0.055,-0.96],[-0.054,-0.86],[-0.052,-0.72],[-0.052,-0.58],[-0.051,-0.44],[-0.051,-0.30],[-0.051,-0.16],[-0.051,-0.02],[-0.050,0.12],[-0.049,0.26],[-0.049,0.40],[-0.049,0.50]],
  [[-0.048,-1.37],[-0.049,-1.26],[-0.050,-1.12],[-0.050,-0.98],[-0.049,-0.84],[-0.049,-0.70],[-0.048,-0.56],[-0.047,-0.42],[-0.047,-0.28],[-0.047,-0.14],[-0.047,0.0],[-0.045,0.12],[-0.047,0.24],[-0.047,0.38],[-0.046,0.50]],
  [[-0.052,-1.36],[-0.053,-1.24],[-0.054,-1.12],[-0.055,-1.00],[-0.054,-0.88],[-0.053,-0.74],[-0.052,-0.60],[-0.052,-0.46],[-0.051,-0.32],[-0.051,-0.18],[-0.051,-0.04],[-0.051,0.10],[-0.051,0.24],[-0.050,0.38],[-0.050,0.50]],
  [[-0.050,-1.38],[-0.051,-1.24],[-0.052,-1.10],[-0.052,-0.96],[-0.051,-0.82],[-0.051,-0.68],[-0.050,-0.54],[-0.050,-0.40],[-0.049,-0.26],[-0.049,-0.12],[-0.049,0.02],[-0.049,0.16],[-0.049,0.30],[-0.049,0.42],[-0.048,0.53]],
  [[-0.047,-1.37],[-0.048,-1.24],[-0.049,-1.10],[-0.048,-0.96],[-0.047,-0.82],[-0.047,-0.68],[-0.046,-0.54],[-0.046,-0.40],[-0.045,-0.26],[-0.045,-0.12],[-0.045,0.02],[-0.045,0.14],[-0.044,0.28],[-0.045,0.42],[-0.044,0.54]]
];

// (F)
const topF = [[-0.040,0.62],[-0.038,0.66],[-0.036,0.70],[-0.034,0.72],[-0.031,0.72],[-0.028,0.72],[-0.026,0.70],[-0.024,0.68],[-0.021,0.67],[-0.018,0.68],[-0.015,0.69],[-0.012,0.70],[-0.009,0.71],[-0.006,0.72],[-0.003,0.73],[0.0,0.75],[0.003,0.78],[0.006,0.81],[0.009,0.83],[0.012,0.83],[0.015,0.84],[0.018,0.85],[0.021,0.86],[0.024,0.85],[0.027,0.84],[0.030,0.84],[0.033,0.83],[0.036,0.82],[0.038,0.79],[0.041,0.77],[0.044,0.76],[0.047,0.75],[0.050,0.72],[0.051,0.68]];
const bottomF = [[0.026,-0.85],[0.022,-0.85],[0.018,-0.845],[0.014,-0.85],[0.01,-0.86],[0.007,-0.88],[0.004,-0.90],[0.0,-0.92],[-0.005,-0.94],[-0.01,-0.96],[-0.015,-0.97],[-0.02,-0.99],[-0.025,-1.01],[-0.03,-1.02],[-0.035,-1.03],[-0.04,-1.05],[-0.045,-1.045],[-0.05,-1.03],[-0.054,-1.02]];
const rightF = [
  [[0.052,0.68],[0.051,0.60],[0.050,0.50],[0.050,0.40],[0.049,0.30],[0.047,0.20],[0.046,0.10],[0.044,0.0],[0.042,-0.10],[0.040,-0.20],[0.038,-0.30],[0.036,-0.40],[0.034,-0.52],[0.032,-0.64],[0.030,-0.76],[0.028,-0.85]],
  [[0.049,0.72],[0.050,0.62],[0.048,0.52],[0.048,0.42],[0.046,0.36],[0.046,0.26],[0.044,0.14],[0.042,0.04],[0.040,-0.06],[0.038,-0.16],[0.036,-0.28],[0.033,-0.40],[0.030,-0.52],[0.027,-0.64],[0.024,-0.76],[0.022,-0.85]],
  [[0.047,0.74],[0.047,0.62],[0.046,0.52],[0.045,0.42],[0.043,0.36],[0.043,0.26],[0.042,0.16],[0.041,0.06],[0.038,-0.02],[0.036,-0.12],[0.034,-0.24],[0.032,-0.36],[0.029,-0.48],[0.025,-0.60],[0.021,-0.72],[0.019,-0.82],[0.021,-0.85]],
  [[0.050,0.70],[0.049,0.58],[0.049,0.46],[0.047,0.38],[0.045,0.30],[0.045,0.20],[0.043,0.10],[0.040,0.02],[0.039,-0.08],[0.037,-0.20],[0.035,-0.32],[0.033,-0.44],[0.031,-0.56],[0.028,-0.68],[0.026,-0.78],[0.025,-0.86]],
  [[0.048,0.73],[0.048,0.64],[0.047,0.55],[0.046,0.45],[0.044,0.38],[0.044,0.28],[0.043,0.18],[0.041,0.08],[0.040,-0.04],[0.037,-0.14],[0.035,-0.26],[0.032,-0.38],[0.029,-0.50],[0.026,-0.62],[0.023,-0.74],[0.021,-0.84]],
  [[0.051,0.70],[0.051,0.60],[0.049,0.50],[0.049,0.40],[0.048,0.32],[0.046,0.22],[0.045,0.12],[0.043,0.02],[0.041,-0.08],[0.039,-0.18],[0.037,-0.30],[0.035,-0.42],[0.033,-0.54],[0.030,-0.66],[0.028,-0.78],[0.026,-0.86]],
  [[0.048,0.74],[0.049,0.64],[0.048,0.54],[0.047,0.44],[0.045,0.34],[0.044,0.24],[0.043,0.14],[0.041,0.04],[0.039,-0.06],[0.037,-0.18],[0.035,-0.30],[0.032,-0.42],[0.029,-0.54],[0.026,-0.66],[0.023,-0.78],[0.022,-0.86]],
  [[0.050,0.72],[0.050,0.62],[0.048,0.50],[0.047,0.40],[0.046,0.30],[0.044,0.22],[0.042,0.12],[0.040,0.02],[0.039,-0.10],[0.036,-0.22],[0.034,-0.34],[0.031,-0.46],[0.028,-0.58],[0.025,-0.70],[0.022,-0.80],[0.020,-0.85]]
];
const leftF = [
  [[-0.055,-1.02],[-0.055,-0.92],[-0.055,-0.80],[-0.055,-0.66],[-0.053,-0.54],[-0.051,-0.42],[-0.050,-0.30],[-0.048,-0.18],[-0.047,-0.06],[-0.046,0.06],[-0.044,0.18],[-0.043,0.30],[-0.042,0.42],[-0.041,0.52],[-0.040,0.62]],
  [[-0.052,-1.03],[-0.053,-0.90],[-0.052,-0.76],[-0.051,-0.62],[-0.050,-0.50],[-0.048,-0.38],[-0.046,-0.26],[-0.045,-0.14],[-0.044,-0.02],[-0.042,0.10],[-0.041,0.22],[-0.039,0.32],[-0.038,0.44],[-0.036,0.56],[-0.036,0.68],[-0.034,0.72]],
  [[-0.049,-1.04],[-0.050,-0.92],[-0.049,-0.80],[-0.048,-0.66],[-0.047,-0.54],[-0.045,-0.42],[-0.044,-0.30],[-0.042,-0.18],[-0.041,-0.06],[-0.040,0.06],[-0.038,0.18],[-0.036,0.26],[-0.030,0.26],[-0.031,0.38],[-0.029,0.50],[-0.031,0.62],[-0.030,0.72]],
  [[-0.046,-1.02],[-0.047,-0.90],[-0.046,-0.76],[-0.045,-0.62],[-0.044,-0.48],[-0.043,-0.36],[-0.041,-0.24],[-0.039,-0.12],[-0.038,0.0],[-0.037,0.12],[-0.036,0.22],[-0.035,0.34],[-0.033,0.40],[-0.028,0.46],[-0.030,0.58],[-0.028,0.70]],
  [[-0.054,-1.00],[-0.052,-0.86],[-0.053,-0.72],[-0.051,-0.58],[-0.049,-0.46],[-0.047,-0.34],[-0.046,-0.22],[-0.044,-0.10],[-0.043,0.02],[-0.041,0.14],[-0.040,0.26],[-0.038,0.38],[-0.037,0.50],[-0.034,0.60],[-0.033,0.70]],
  [[-0.050,-1.02],[-0.051,-0.88],[-0.050,-0.74],[-0.049,-0.60],[-0.048,-0.48],[-0.047,-0.36],[-0.045,-0.24],[-0.043,-0.12],[-0.042,0.0],[-0.040,0.10],[-0.039,0.22],[-0.037,0.30],[-0.035,0.42],[-0.032,0.48],[-0.034,0.58],[-0.032,0.66],[-0.036,0.72]],
  [[-0.053,-1.02],[-0.054,-0.90],[-0.054,-0.78],[-0.052,-0.64],[-0.051,-0.52],[-0.049,-0.40],[-0.047,-0.28],[-0.046,-0.16],[-0.045,-0.04],[-0.043,0.08],[-0.042,0.20],[-0.040,0.30],[-0.039,0.42],[-0.038,0.54],[-0.037,0.66],[-0.035,0.72]],
  [[-0.048,-1.03],[-0.049,-0.90],[-0.048,-0.78],[-0.047,-0.64],[-0.046,-0.52],[-0.044,-0.40],[-0.043,-0.28],[-0.041,-0.16],[-0.040,-0.04],[-0.039,0.08],[-0.037,0.20],[-0.034,0.30],[-0.032,0.36],[-0.033,0.48],[-0.031,0.58],[-0.029,0.68],[-0.031,0.72]],
  [[-0.051,-1.03],[-0.052,-0.90],[-0.051,-0.76],[-0.050,-0.62],[-0.049,-0.50],[-0.047,-0.38],[-0.045,-0.26],[-0.044,-0.14],[-0.043,-0.02],[-0.041,0.10],[-0.040,0.22],[-0.038,0.34],[-0.036,0.44],[-0.035,0.56],[-0.034,0.66],[-0.032,0.72]]
];

// axis ranges (min, max, step) per panel
const xRanges = { A: [-0.12, 0.12, 0.02], B: [-0.10, 0.10, 0.02], C: [-0.08, 0.08, 0.02], D: [-0.08, 0.08, 0.02], E: [-0.08, 0.08, 0.02], F: [-0.08, 0.08, 0.02] };
const yRanges = { A: [-1.2, 1.2, 0.2], B: [-1.2, 1.2, 0.2], C: [-1.4, 1.4, 0.2], D: [-1.4, 1.4, 0.2], E: [-1.6, 1.6, 0.2], F: [-1.2, 1.2, 0.2] };

// ── LAYOUT (pixels) ──────────────────────────────────────────────────────────
const PANELS = [
  { key: 'A', top: topA, bottom: bottomA, right: rightA, left: leftA, band: 13,
    grid: [156, 42, 1604, 1021], tick: 28, title: [953, 1116, 39], cof: [104, 557], label: [940, 1269] },
  { key: 'B', top: topB, bottom: bottomB, right: rightB, left: leftB, band: 12,
    grid: [2110, 54, 1566, 997], tick: 27, title: [2900, 1105, 38], cof: [2058, 551], label: [2874, 1269] },
  { key: 'C', top: topC, bottom: bottomC, right: rightC, left: leftC, band: 12,
    grid: [173, 1414, 1567, 1002], tick: 27, title: [951, 2470, 38], cof: [117, 1921], label: [940, 2628] },
  { key: 'D', top: topD, bottom: bottomD, right: rightD, left: leftD, band: 15,
    grid: [2071, 1393, 1636, 1035], tick: 28, title: [2890, 2480, 40], cof: [2025, 1921], label: [2874, 2628] },
  { key: 'E', top: topE, bottom: bottomE, right: rightE, left: leftE, band: 19,
    grid: [115, 2731, 1757, 1067], tick: 30, title: [979, 3858, 43], cof: [52, 3228], label: [940, 3990] },
  { key: 'F', top: topF, bottom: bottomF, right: rightF, left: leftF, band: 17,
    grid: [2056, 2739, 1728, 1069], tick: 30, title: [2920, 3871, 42], cof: [1994, 3267], label: [2874, 3990] }
];

const LINE = '#2a7bbf';
const AXIS = '#8a8a8a';
const GRIDC = '#e2e2e2';
const LABEL = '#595959';

const fmtX = v => v.toFixed(2).replace('.', ',').replace('-0,00', '0,00');
const fmtY = v => String(Math.round(v * 10) / 10).replace('.', ',');

const grids = [], xAxes = [], yAxes = [], series = [], graphics = [];

PANELS.forEach(function (p, i) {
  const gw = p.grid[2], gh = p.grid[3];
  grids.push({ left: p.grid[0], top: p.grid[1], width: gw, height: gh,
    containLabel: false, outerBoundsMode: 'none' });

  const xr = xRanges[p.key], yr = yRanges[p.key];
  const axisCommon = {
    type: 'value',
    gridIndex: i,
    axisTick: { show: true, inside: false, length: 9, lineStyle: { color: AXIS, width: 3 } },
    splitLine: { show: true, showMinLine: true, showMaxLine: true, lineStyle: { color: GRIDC, width: 3 } },
    splitArea: { show: false }
  };
  // ranges are symmetric, so the zero lines sit at the middle of each grid
  xAxes.push(Object.assign({}, axisCommon, {
    position: 'bottom', offset: -gh / 2,
    min: xr[0], max: xr[1], interval: xr[2],
    axisLine: { show: true, onZero: false, lineStyle: { color: AXIS, width: 3 } },
    axisLabel: { show: true, formatter: fmtX, fontSize: p.tick, color: LABEL, fontFamily: 'Liberation Sans',
      margin: 26, showMinLabel: true, showMaxLabel: true, hideOverlap: false }
  }));
  yAxes.push(Object.assign({}, axisCommon, {
    position: 'left', offset: -gw / 2,
    min: yr[0], max: yr[1], interval: yr[2],
    axisLine: { show: true, onZero: false, lineStyle: { color: AXIS, width: 3 } },
    axisLabel: { show: true, formatter: fmtY, fontSize: p.tick, color: LABEL, fontFamily: 'Liberation Sans',
      margin: 24, showMinLabel: true, showMaxLabel: true, hideOverlap: false }
  }));

  const mk = function (data, width) {
    return {
      type: 'line', xAxisIndex: i, yAxisIndex: i, data: data,
      showSymbol: false, symbol: 'none', smooth: false, animation: false, silent: true,
      lineStyle: { color: LINE, width: width, cap: 'round', join: 'round' },
      z: 3
    };
  };
  p.right.forEach(function (w) { series.push(mk(w, 4)); });
  p.left.forEach(function (w) { series.push(mk(w, 4)); });
  series.push(mk(p.top, p.band));
  series.push(mk(p.bottom, p.band));

  graphics.push({
    type: 'text', x: p.title[0], y: p.title[1],
    style: { text: 'RELATIVE DISPLACEMENT [mm]', fill: '#262626', align: 'center', verticalAlign: 'middle',
      fontFamily: 'Liberation Sans', fontWeight: 'bold', fontSize: p.title[2] }
  });
  graphics.push({
    type: 'text', x: p.cof[0], y: p.cof[1], rotation: Math.PI / 2,
    style: { text: 'COF', fill: '#262626', align: 'center', verticalAlign: 'middle',
      fontFamily: 'Liberation Sans', fontWeight: 'bold', fontSize: p.title[2] - 2 }
  });
  graphics.push({
    type: 'text', x: p.label[0], y: p.label[1],
    style: {
      text: '{p|(}{b|' + p.key + '}{p|)}', align: 'center', verticalAlign: 'middle', fill: '#000',
      rich: {
        p: { fontFamily: 'Liberation Serif', fontSize: 70, fontWeight: 'normal', fill: '#000', color: '#000' },
        b: { fontFamily: 'Liberation Serif', fontSize: 70, fontWeight: 'bold', fill: '#000', color: '#000' }
      }
    }
  });
});

const chart = echarts.init(document.getElementById('chart'), null, { renderer: 'canvas' });
chart.setOption({
  backgroundColor: '#ffffff',
  animation: false,
  grid: grids,
  xAxis: xAxes,
  yAxis: yAxes,
  series: series,
  graphic: graphics
});
</script>
</body>
</html>
